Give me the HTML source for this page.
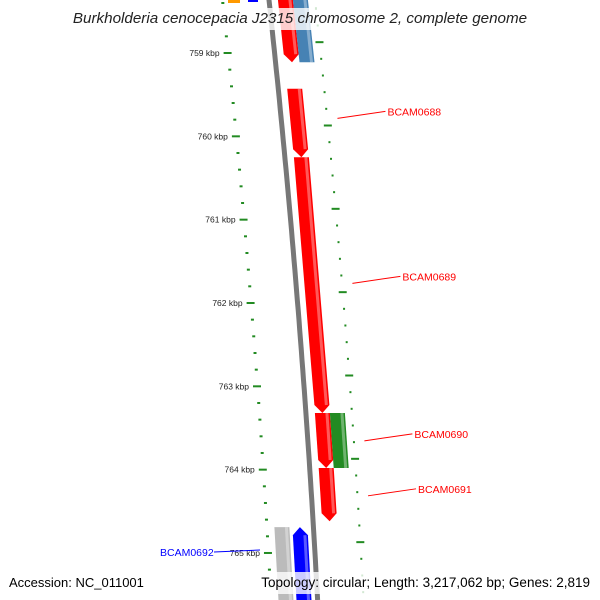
<!DOCTYPE html>
<html><head><meta charset="utf-8"><style>
html,body{margin:0;background:#fff;overflow:hidden;width:600px;height:600px}svg{display:block;font-family:"Liberation Sans","DejaVu Sans",sans-serif}
</style></head><body>
<svg id="map" width="600" height="600" viewBox="0 0 600 600">
<g id="ticks"></g>
<path id="backbone" fill="none" stroke="#777" stroke-width="5"/>
<g id="genes"></g>
<g id="labels"></g>
<rect x="228" y="0" width="12" height="3" fill="#ff9900"/>
<rect x="248" y="0" width="10" height="2" fill="#0000ff"/>
<rect x="0" y="8" width="600" height="22" fill="#fff" opacity="0.8"/>
<text x="300" y="23" text-anchor="middle" font-size="15.2" font-style="italic" fill="#222">Burkholderia cenocepacia J2315 chromosome 2, complete genome</text>
<rect x="0" y="572" width="600" height="22" fill="#fff" opacity="0.8"/>
<text x="9" y="587" font-size="13" fill="#000">Accession: NC_011001</text>
<text x="590" y="587" font-size="13.5" text-anchor="end" fill="#000">Topology: circular; Length: 3,217,062 bp; Genes: 2,819</text>
</svg>
<script>
const majorTicks=[759,760,761,762,763,764,765];
const geneStarts=[758.1,758.1,759.43,760.25,763.32,763.98,763.32,764.69,764.69];
const geneEnds=[759.11,759.11,760.25,763.32,763.98,764.62,763.98,766.0,766.0];
const geneLanes=[0,1,0,0,0,0,1,-2,-1];
const geneDirs=[1,0,1,1,1,1,0,0,-1];
const geneColors=["#ff0000","#4682b4","#ff0000","#ff0000","#ff0000","#ff0000","#228b22","#bbbbbb","#0000ff"];
const labelNames=["BCAM0688","BCAM0689","BCAM0690","BCAM0691"];
const labelPos=[759.7,761.68,763.57,764.23];
const NS="http://www.w3.org/2000/svg";
function Y(k){return 53+(k-759)*83.33;}
function BX(y){return 269+0.108*y-0.000045*y*y;}
function mk(t,a,p){const e=document.createElementNS(NS,t);for(const k in a)e.setAttribute(k,a[k]);(p||document.getElementById('map')).appendChild(e);return e;}
let d="";for(let y=-10;y<=600;y+=10)d+=(y==-10?"M":"L")+BX(y).toFixed(1)+" "+y;
document.getElementById('backbone').setAttribute('d',d);
const tg=document.getElementById('ticks');
for(let k=758.2;k<766.3;k+=0.2){
  const kk=Math.round(k*10)/10;const major=Math.abs(kk-Math.round(kk))<0.01;
  const y=Y(kk);
  if(y<598){const x=BX(y)-46;
  const t=mk('line',{x1:x-(major?5:2),x2:x+(major?3:1),y1:y,y2:y,stroke:"#228b22","stroke-width":2},tg);
  }
  const y2=Y(kk-0.13);
  if(y2<598){const x2=BX(y2)+46;
  const t2=mk('line',{x1:x2-(major?4:1),x2:x2+(major?4:1),y1:y2,y2:y2,stroke:"#228b22","stroke-width":2},tg);
  }
}
majorTicks.forEach(k=>{const y=Y(k);const tx=mk('text',{x:BX(y)-55,y:y+3,"font-size":8.5,"text-anchor":"end",fill:"#222"},tg);tx.textContent=k+" kbp";
});
const gg=document.getElementById('genes');
const laneOff={0:[9,24],1:[24,39],"-1":[-21,-6],"-2":[-39,-24]};
geneStarts.forEach((s,i)=>{
  const y1=Y(s),y2=Y(geneEnds[i]);const o=laneOff[geneLanes[i]];const dir=geneDirs[i];
  const pts=[];const L=8;
  let a=y1,b=y2;
  if(dir===1)b=y2-L; if(dir===-1)a=y1+L;
  if(dir===-1){pts.push([BX(y1)+(o[0]+o[1])/2,y1]);}
  pts.push([BX(a)+o[1],a]);pts.push([BX(b)+o[1],b]);
  if(dir===1)pts.push([BX(y2)+(o[0]+o[1])/2,y2]);
  pts.push([BX(b)+o[0],b]);pts.push([BX(a)+o[0],a]);
  const p=mk('polygon',{points:pts.map(q=>q[0].toFixed(1)+","+q[1].toFixed(1)).join(" "),fill:geneColors[i]},gg);
  
  const h=mk('line',{x1:BX(a)+o[1]-3,y1:a,x2:BX(b)+o[1]-3,y2:b,stroke:"#fff","stroke-opacity":0.35,"stroke-width":3},gg);
  
});
const lg=document.getElementById('labels');
labelNames.forEach((n,i)=>{const y=Y(labelPos[i]);const x=BX(y)+57;
  const l=mk('line',{x1:x,y1:y+7,x2:x+48,y2:y,stroke:"#ff0000","stroke-width":1},lg);
  
  const t=mk('text',{x:x+50,y:y+4,"font-size":10.5,fill:"#ff0000"},lg);t.textContent=n;
  });
const bl=mk('line',{x1:214,y1:552,x2:260,y2:550,stroke:"#0000ff","stroke-width":1},lg);

const bt=mk('text',{x:160,y:556,"font-size":10.5,fill:"#0000ff"},lg);bt.textContent="BCAM0692";

</script>
</body></html>
